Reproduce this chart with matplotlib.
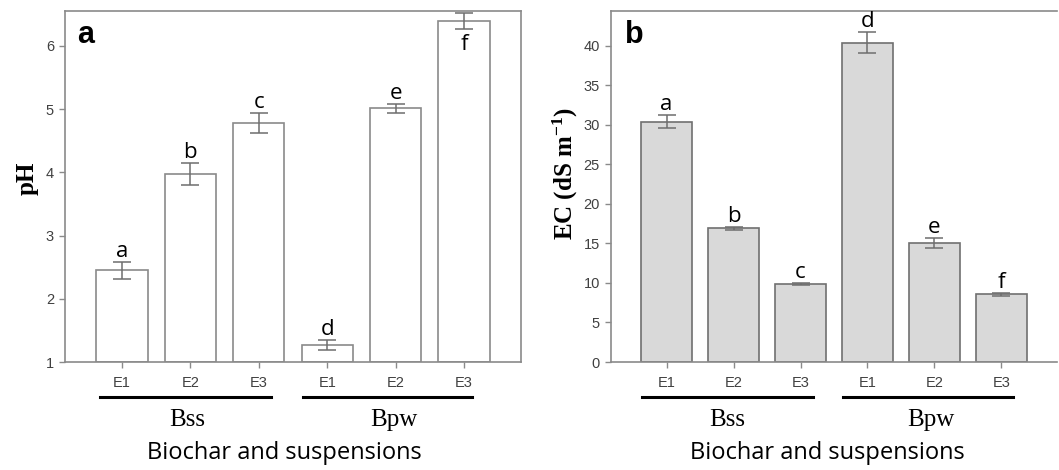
import matplotlib
matplotlib.use("Agg")
import matplotlib.pyplot as plt
import matplotlib.transforms as mtransforms

plt.rcParams['mathtext.fontset'] = 'custom'
plt.rcParams['mathtext.rm'] = 'Liberation Serif:bold'
plt.rcParams['mathtext.bf'] = 'Liberation Serif:bold'
plt.rcParams['mathtext.default'] = 'rm'

# ---- data ----
categories = ["E1", "E2", "E3", "E1", "E2", "E3"]
groups = ["Bss", "Bpw"]
ph_values = [2.45, 3.97, 4.78, 1.27, 5.01, 6.39]
ph_errors = [0.13, 0.17, 0.16, 0.075, 0.065, 0.13]
ph_letters = ["a", "b", "c", "d", "e", "f"]
ec_values = [30.4, 16.9, 9.87, 40.4, 15.06, 8.57]
ec_errors = [0.8, 0.2, 0.1, 1.37, 0.6, 0.2]
ec_letters = ["a", "b", "c", "d", "e", "f"]

W, H = 1059, 470
fig = plt.figure(figsize=(W / 100, H / 100), dpi=100)

spine_col = "#8a8a8a"
tick_col = "#404040"
err_col = "#6e6e6e"
letter_font = "Open Sans"


def px_axes(left, right, top, bottom):
    return fig.add_axes([left / W, 1 - bottom / H, (right - left) / W, (bottom - top) / H])


def style_axes(ax, ylim, yticks, show_right=True):
    x = list(range(len(categories)))
    ax.set_xlim(-0.83, len(categories) - 1 + 0.83)
    ax.set_ylim(*ylim)
    ax.set_xticks(x)
    ax.set_xticklabels(categories, fontsize=10.5, color=tick_col, family="Liberation Sans")
    ax.set_yticks(yticks)
    ax.set_yticklabels([str(t) for t in yticks], fontsize=10.5, color=tick_col, family="Liberation Sans")
    for s in ax.spines.values():
        s.set_color(spine_col)
        s.set_linewidth(1.2)
    if not show_right:
        ax.spines['right'].set_visible(False)
    ax.tick_params(axis='both', direction='out', length=4, width=1, color=spine_col, pad=4)
    ax.tick_params(axis='x', pad=6)


def draw_groups(ax, line_spans, label_x, line_y=-0.10, text_y=-0.165):
    trans = mtransforms.blended_transform_factory(ax.transData, ax.transAxes)
    for (x0, x1), lx, g in zip(line_spans, label_x, groups):
        ax.plot([x0, x1], [line_y, line_y], color="black", lw=2.2, transform=trans, clip_on=False)
        ax.text(lx, text_y, g, transform=trans, ha="center", va="center",
                family="Liberation Serif", fontsize=18)


# ---- panel a ----
axA = px_axes(65, 521, 11, 362)
xs = list(range(len(categories)))
axA.bar(xs, [v - 1 for v in ph_values], bottom=1, width=0.75, color="white",
        edgecolor=spine_col, linewidth=1.2, zorder=2)
axA.errorbar(xs, ph_values, yerr=ph_errors, fmt="none", ecolor=err_col,
             elinewidth=1.1, capsize=6.2, capthick=1.1, zorder=3)
style_axes(axA, (1, 6.55), [1, 2, 3, 4, 5, 6])
for i, (v, e, l) in enumerate(zip(ph_values, ph_errors, ph_letters)):
    if i == 5:
        axA.annotate(l, (i, v - e), xytext=(0, -3), textcoords="offset points",
                     ha="center", va="top", fontsize=16, family=letter_font)
    else:
        axA.annotate(l, (i, v + e), xytext=(0, 0), textcoords="offset points",
                     ha="center", va="bottom", fontsize=16, family=letter_font)
draw_groups(axA, [(-0.32, 2.18), (2.64, 5.12)], [0.95, 3.97])
axA.text(0.026, 0.908, "a", transform=axA.transAxes, fontsize=22, fontweight="bold",
         family="Liberation Sans", ha="left", va="baseline")
axA.text(-0.083, 0.524, "pH", transform=axA.transAxes, rotation=90, fontsize=18,
         fontweight="bold", family="Liberation Serif", ha="center", va="center")
axA.text(0.48, -0.26, "Biochar and suspensions", transform=axA.transAxes,
         ha="center", va="center", fontsize=17, family=letter_font)

# ---- panel b ----
axB = px_axes(611, 1057, 11, 362)
axB.bar(xs, ec_values, width=0.75, color="#d9d9d9", edgecolor="#707070",
        linewidth=1.2, zorder=2)
axB.errorbar(xs, ec_values, yerr=ec_errors, fmt="none", ecolor=err_col,
             elinewidth=1.1, capsize=6.2, capthick=1.1, zorder=3)
style_axes(axB, (0, 44.4), [0, 5, 10, 15, 20, 25, 30, 35, 40], show_right=False)
for i, (v, e, l) in enumerate(zip(ec_values, ec_errors, ec_letters)):
    axB.annotate(l, (i, v + e), xytext=(0, 0), textcoords="offset points",
                 ha="center", va="bottom", fontsize=16, family=letter_font)
draw_groups(axB, [(-0.36, 2.18), (2.64, 5.18)], [0.9, 3.94])
axB.text(0.031, 0.908, "b", transform=axB.transAxes, fontsize=22, fontweight="bold",
         family="Liberation Sans", ha="left", va="baseline")
axB.text(-0.103, 0.536, r"EC (dS m$^{-1}$)", transform=axB.transAxes, rotation=90,
         fontsize=18, fontweight="bold", family="Liberation Serif", ha="center", va="center")
axB.text(0.485, -0.26, "Biochar and suspensions", transform=axB.transAxes,
         ha="center", va="center", fontsize=17, family=letter_font)

fig.savefig("out.png", dpi=100)
